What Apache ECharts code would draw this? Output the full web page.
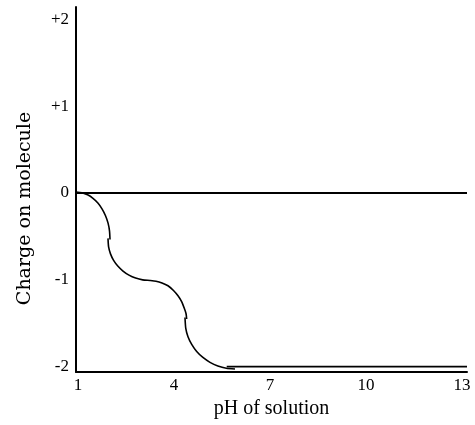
<!DOCTYPE html>
<html>
<head>
<meta charset="utf-8">
<script src="https://cdn.jsdelivr.net/npm/echarts@6/dist/echarts.min.js"></script>
<style>html,body{margin:0;padding:0;background:#fff;}#c{width:475px;height:425px;}</style>
</head>
<body>
<div id="c"></div>
<script>
var xTicks = [1, 4, 7, 10, 13];
var yTicks = [-2, -1, 0, 1, 2];
var zeroLine = [[0.94, 0], [13.16, 0]];
var arc1 = [[0.94, 0.012], [1.124, 0.003], [1.303, -0.021], [1.471, -0.061], [1.624, -0.115], [1.753, -0.182], [1.859, -0.259], [1.94, -0.344], [1.987, -0.435], [2.003, -0.535]];
var arc2 = [[1.94, -0.522], [1.959, -0.621], [2.018, -0.701], [2.115, -0.775], [2.246, -0.84], [2.409, -0.898], [2.596, -0.945], [2.803, -0.979], [3.024, -1.0], [3.253, -1.007],
            [3.44, -1.015], [3.628, -1.035], [3.815, -1.068], [3.987, -1.122], [4.128, -1.183], [4.237, -1.248], [4.324, -1.327], [4.378, -1.387], [4.399, -1.45]];
var arc3 = [[4.346, -1.432], [4.371, -1.559], [4.44, -1.655], [4.556, -1.743], [4.712, -1.824], [4.906, -1.893], [5.128, -1.949], [5.374, -1.991], [5.637, -2.017], [5.909, -2.025]];
var plateau = [[5.65, -1.999], [13.16, -1.999]];

var serif = 'Liberation Serif';
var chart = echarts.init(document.getElementById('c'));
function lineSeries(data, w, smooth) {
  return {type: 'line', data: data, showSymbol: false, symbol: 'none', smooth: smooth ? 0.2 : false,
    lineStyle: {color: '#000', width: w}, silent: true, animation: false};
}
chart.setOption({
  backgroundColor: '#fff',
  animation: false,
  grid: {left: 76, right: 8, top: 7, bottom: 53, containLabel: false},
  xAxis: {
    type: 'value', min: 0.94, max: 13.16,
    name: 'pH of solution', nameLocation: 'middle', nameGap: 27,
    nameTextStyle: {fontFamily: serif, fontSize: 20, color: '#000'},
    axisLine: {show: true, onZero: false, lineStyle: {color: '#000', width: 2}},
    axisTick: {show: false},
    splitLine: {show: false},
    axisLabel: {customValues: xTicks, fontFamily: serif, fontSize: 17, color: '#000', margin: 5}
  },
  yAxis: {
    type: 'value', min: -2.06, max: 2.14,
    name: 'Charge on molecule', nameLocation: 'middle', nameGap: 41, nameRotate: 90,
    nameTextStyle: {fontFamily: 'DejaVu Serif', fontSize: 19, color: '#000', padding: [0, 38, 0, 0]},
    axisLine: {show: true, onZero: false, lineStyle: {color: '#000', width: 2}},
    axisTick: {show: false},
    splitLine: {show: false},
    axisLabel: {customValues: yTicks, fontFamily: serif, fontSize: 17, color: '#000', margin: 7,
      formatter: function (v) { return v > 0 ? '+' + v : String(v); }}
  },
  series: [
    lineSeries(zeroLine, 2.2, false),
    lineSeries(arc1, 1.6, true),
    lineSeries(arc2, 1.6, true),
    lineSeries(arc3, 1.6, true),
    lineSeries(plateau, 1.8, false)
  ]
});
</script>
</body>
</html>
